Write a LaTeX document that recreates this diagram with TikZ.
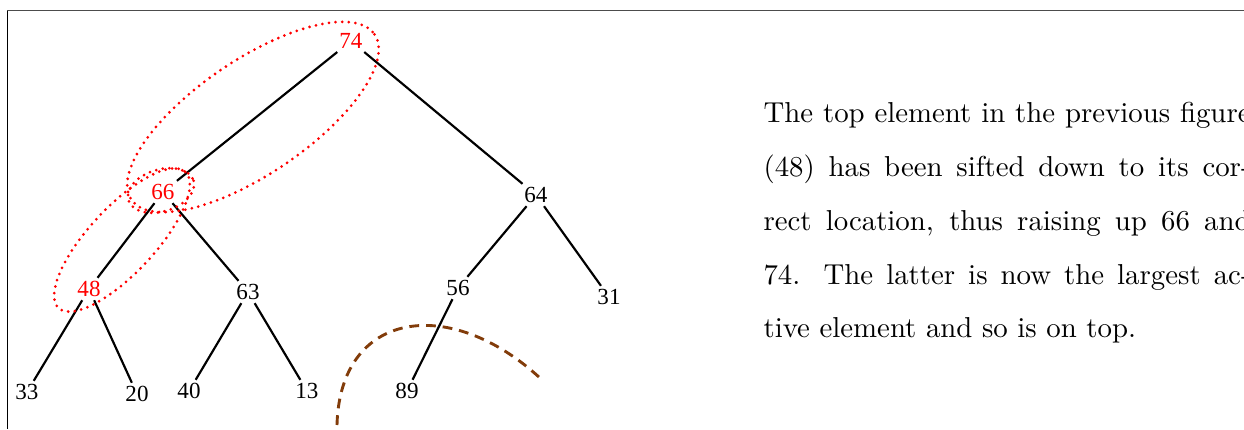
\documentclass[tikz,border=0pt]{standalone}
\usepackage{fontspec}
\newfontfamily\treefont{Liberation Serif}
\definecolor{arcbrown}{RGB}{130,60,10}
\tikzset{
  key/.style={font=\treefont\fontsize{8}{9.5}\selectfont, inner sep=1pt},
  hot/.style={key, text=red},
  edge/.style={line width=0.75pt, black},
  ring/.style={red, line width=1.05pt, line cap=round, dash pattern=on 0pt off 2.3pt},
  arc/.style={arcbrown, line width=1pt, dash pattern=on 3.4pt off 2.4pt},
  txtline/.style={anchor=base west, inner sep=0pt}
}
\begin{document}
\begin{tikzpicture}[x=0.347pt,y=-0.347pt]
\clip (0,0) rectangle (1244,429);
\useasboundingbox (0,0) rectangle (1244,429);
% frame
\draw[black!70, line width=0.5pt] (7.5,10.5) -- (1244,10.5);
\draw[black, line width=0.5pt] (7.5,10.5) -- (7.5,429);
% nodes
\node[hot] (n74) at (351,41) {74};
\node[hot] (n66) at (163,192) {66};
\node[key] (n64) at (536,195) {64};
\node[hot] (n48) at (89,289) {48};
\node[key] (n63) at (248,292) {63};
\node[key] (n56) at (458,288) {56};
\node[key] (n31) at (609,297) {31};
\node[key] (n33) at (27,392) {33};
\node[key] (n20) at (137,394) {20};
\node[key] (n40) at (189,391) {40};
\node[key] (n13) at (307,391) {13};
\node[key] (n89) at (407,391) {89};
% edges
\draw[edge] (n74) -- (n66);
\draw[edge] (n74) -- (n64);
\draw[edge] (n66) -- (n48);
\draw[edge] (n66) -- (n63);
\draw[edge] (n64) -- (n56);
\draw[edge] (n64) -- (n31);
\draw[edge] (n48) -- (n33);
\draw[edge] (n48) -- (n20);
\draw[edge] (n63) -- (n40);
\draw[edge] (n63) -- (n13);
\draw[edge] (n56) -- (n89);
% red dotted rings
\draw[ring, rotate around={34.2:(253,117)}] (253,117) ellipse [x radius=147, y radius=57];
\draw[ring, rotate around={16.6:(161,190.5)}] (161,190.5) ellipse [x radius=34, y radius=21];
\draw[ring, rotate around={47:(122,240)}] (122,240) ellipse [x radius=93, y radius=33];
% brown dashed arc
\coordinate (a0) at (337,425);
\coordinate (a1) at (540,378);
\draw[arc] (a0) .. controls (340,310) and (450,295) .. (a1);
% text
\node[txtline] (t1) at (763,122.7) {\makebox[169pt][s]{The top element in the previous figure}};
\node[txtline] (t2) at (763,176.5) {\makebox[169pt][s]{(48) has been sifted down to its cor-}};
\node[txtline] (t3) at (763,230.3) {\makebox[169pt][s]{rect location, thus raising up 66 and}};
\node[txtline] (t4) at (763,284.1) {\makebox[169pt][s]{74. The latter is now the largest ac-}};
\node[txtline] (t5) at (763,337.9) {tive element and so is on top.};
\end{tikzpicture}
\end{document}
